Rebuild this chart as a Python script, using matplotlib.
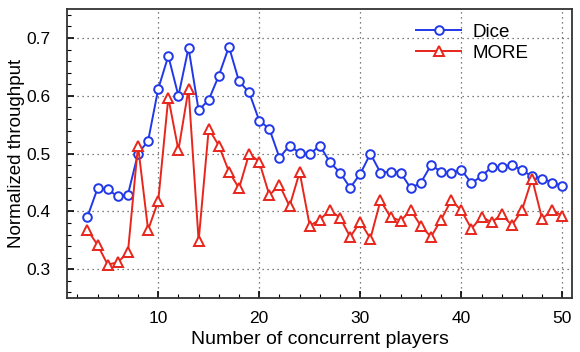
import matplotlib
matplotlib.use("Agg")
import matplotlib.pyplot as plt
from matplotlib.ticker import MultipleLocator

plt.rcParams["font.family"] = ["Liberation Sans", "DejaVu Sans"]

players = list(range(3, 51))

dice = [0.391, 0.440, 0.438, 0.426, 0.429, 0.500, 0.522, 0.612, 0.669, 0.600,
        0.683, 0.575, 0.593, 0.635, 0.685, 0.625, 0.606, 0.557, 0.543, 0.493,
        0.514, 0.501, 0.499, 0.514, 0.485, 0.467, 0.441, 0.465, 0.500, 0.467,
        0.469, 0.467, 0.440, 0.450, 0.480, 0.469, 0.466, 0.472, 0.449, 0.461,
        0.477, 0.477, 0.481, 0.471, 0.461, 0.457, 0.450, 0.444]

more = [0.368, 0.342, 0.308, 0.312, 0.329, 0.514, 0.368, 0.418, 0.597, 0.506,
        0.612, 0.349, 0.543, 0.514, 0.469, 0.440, 0.500, 0.486, 0.428, 0.446,
        0.409, 0.468, 0.375, 0.386, 0.402, 0.389, 0.356, 0.382, 0.353, 0.419,
        0.390, 0.384, 0.402, 0.375, 0.356, 0.386, 0.419, 0.402, 0.370, 0.391,
        0.381, 0.395, 0.376, 0.402, 0.457, 0.387, 0.403, 0.392]

BLUE = "#2038e8"
RED = "#e8261c"

fig = plt.figure(figsize=(5.8, 3.52), dpi=100)
ax = fig.add_axes([0.116, 0.153, 0.871, 0.821])

ax.plot(players, dice, color=BLUE, lw=1.4, marker="o", ms=6.2,
        mfc="white", mec=BLUE, mew=1.4, label="Dice")
ax.plot(players, more, color=RED, lw=1.4, marker="^", ms=6.8,
        mfc="white", mec=RED, mew=1.4, label="MORE")

ax.set_xlim(1, 51)
ax.set_ylim(0.25, 0.75)
ax.xaxis.set_major_locator(MultipleLocator(10))
ax.xaxis.set_minor_locator(MultipleLocator(2))
ax.yaxis.set_major_locator(MultipleLocator(0.1))
ax.yaxis.set_minor_locator(MultipleLocator(0.02))
ax.tick_params(which="both", direction="in", labelsize=12.5)
ax.tick_params(which="major", length=5, width=1.2)
ax.tick_params(which="minor", length=3, width=0.8)
ax.tick_params(axis="x", which="major", pad=9.5)
ax.tick_params(axis="y", which="major", pad=12)
ax.grid(which="major", linestyle=(0, (1, 3)), color="#555555", lw=0.9)
for sp in ax.spines.values():
    sp.set_linewidth(1.3)
    sp.set_color("#333333")

ax.set_xlabel("Number of concurrent players", fontsize=14, labelpad=3)
ax.set_ylabel("Normalized throughput", fontsize=13.5, labelpad=1)

ax.legend(loc="center left", bbox_to_anchor=(0.691, 0.884), frameon=False,
          fontsize=13.5, handlelength=2.4, borderpad=0, borderaxespad=0,
          labelspacing=0.2, handletextpad=0.6)

fig.savefig("out.png", dpi=100)
